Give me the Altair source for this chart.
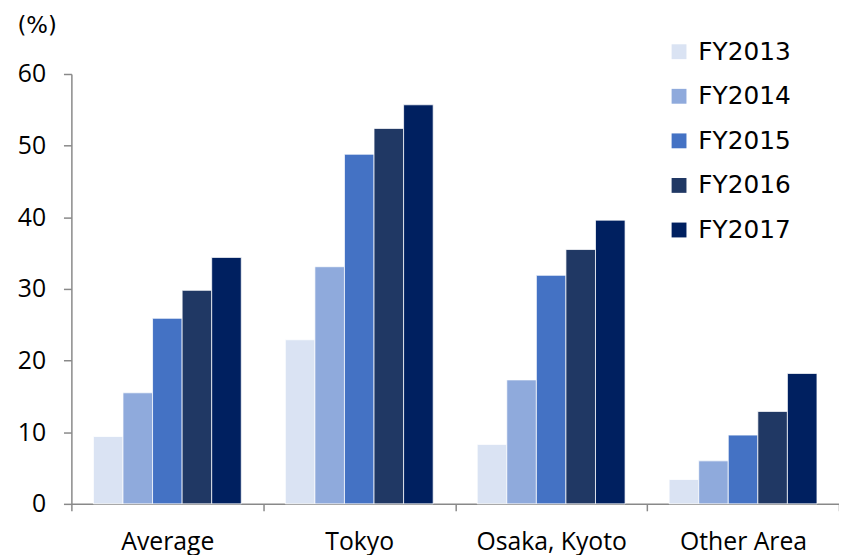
import altair as alt
import pandas as pd

categories = ["Average", "Tokyo", "Osaka, Kyoto", "Other Area"]
years = ["FY2013", "FY2014", "FY2015", "FY2016", "FY2017"]
colors = ["#DAE3F3", "#8FAADC", "#4472C4", "#203864", "#002060"]

values = {
    "FY2013": [9.4, 22.9, 8.3, 3.4],
    "FY2014": [15.5, 33.1, 17.3, 6.0],
    "FY2015": [25.9, 48.8, 31.9, 9.6],
    "FY2016": [29.8, 52.4, 35.5, 12.9],
    "FY2017": [34.4, 55.7, 39.6, 18.2],
}

rows = []
for y in years:
    for c, v in zip(categories, values[y]):
        rows.append({"area": c, "year": y, "value": v})
df = pd.DataFrame(rows)

AXFONT = "Open Sans"
LGFONT = "DejaVu Sans"
AX = "#898989"

chart = alt.Chart(df).mark_bar(stroke="#ffffff", strokeWidth=0.75).encode(
    x=alt.X("area:N", sort=categories, title=None,
            scale=alt.Scale(paddingInner=0, paddingOuter=0),
            axis=alt.Axis(labelAngle=0, tickBand="extent", tickSize=7,
                          labelPadding=19, labelFontSize=25, labelFont=AXFONT,
                          labelColor="#000000", domainColor=AX, tickColor=AX,
                          domainWidth=1.5, tickWidth=1.5)),
    xOffset=alt.XOffset("year:N", sort=years,
                        scale=alt.Scale(paddingInner=0, paddingOuter=0.745)),
    y=alt.Y("value:Q", title="(%)",
            scale=alt.Scale(domain=[0, 60], nice=False),
            axis=alt.Axis(values=[0, 10, 20, 30, 40, 50, 60], grid=False,
                          tickSize=8, labelPadding=18, labelFontSize=25,
                          labelFont=AXFONT, labelColor="#000000",
                          domainColor=AX, tickColor=AX, domainWidth=1.5,
                          tickWidth=1.5,
                          titleAngle=0, titleAlign="left", titleBaseline="alphabetic",
                          titleX=-55, titleY=-42, titleFont=LGFONT,
                          titleFontSize=23, titleFontWeight="normal",
                          titleColor="#000000")),
    color=alt.Color("year:N", sort=years, title=None,
                    scale=alt.Scale(domain=years, range=colors),
                    legend=alt.Legend(orient="none", legendX=601, legendY=-35,
                                      symbolType="square", symbolSize=225,
                                      symbolStrokeWidth=0, labelFont=LGFONT,
                                      labelFontSize=25, labelColor="#000000",
                                      labelOffset=7, rowPadding=19, padding=0)),
).properties(
    width=775, height=434,
    autosize=alt.AutoSizeParams(type="none"),
    padding={"left": 64, "top": 64, "right": 0, "bottom": 49},
).configure_view(stroke=None)

chart.save("out.html", embed_options={"renderer": "svg", "actions": False})
